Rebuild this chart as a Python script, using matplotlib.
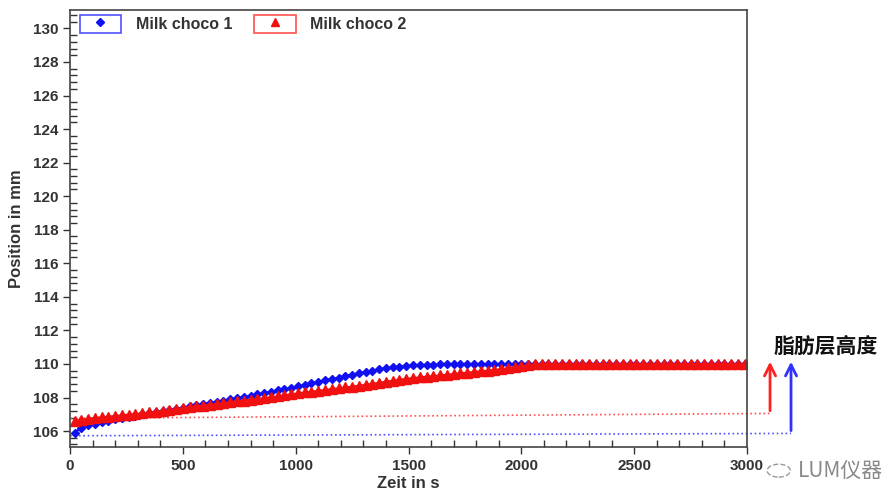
import numpy as np
import matplotlib.pyplot as plt
from matplotlib.lines import Line2D
from matplotlib.patches import Rectangle
from matplotlib.legend_handler import HandlerTuple
from matplotlib.ticker import MultipleLocator

plt.rcParams['font.family'] = ['Liberation Sans', 'Noto Sans CJK SC', 'DejaVu Sans']

# sampling times (s), one scan every 30 s
time_s = list(range(20, 3000, 30))

# Milk choco 1 - position of the fat layer front (mm)
choco1 = [105.90, 106.20, 106.35, 106.45, 106.55, 106.62, 106.70, 106.78, 106.85, 106.92,
          107.00, 107.06, 107.12, 107.19, 107.26, 107.33, 107.40, 107.47, 107.54, 107.61,
          107.68, 107.75, 107.82, 107.89, 107.96, 108.03, 108.10, 108.18, 108.26, 108.34,
          108.42, 108.50, 108.58, 108.66, 108.75, 108.84, 108.93, 109.02, 109.10, 109.18,
          109.27, 109.36, 109.45, 109.53, 109.61, 109.68, 109.74, 109.79, 109.84, 109.88,
          109.91, 109.93, 109.95, 109.96, 109.97, 109.98, 109.98, 109.98, 109.98, 109.98,
          109.98, 109.98, 109.98, 109.98, 109.98, 109.98, 109.98, 109.98, 109.98, 109.98,
          109.98, 109.98, 109.98, 109.98, 109.98, 109.98, 109.98, 109.98, 109.98, 109.98,
          109.98, 109.98, 109.98, 109.98, 109.98, 109.98, 109.98, 109.98, 109.98, 109.98,
          109.98, 109.98, 109.98, 109.98, 109.98, 109.98, 109.98, 109.98, 109.98, 109.98]

# Milk choco 2
choco2 = [106.60, 106.68, 106.74, 106.78, 106.82, 106.86, 106.90, 106.94, 106.98, 107.02,
          107.06, 107.11, 107.16, 107.21, 107.26, 107.31, 107.37, 107.42, 107.47, 107.52,
          107.57, 107.62, 107.67, 107.72, 107.77, 107.82, 107.87, 107.92, 107.97, 108.02,
          108.07, 108.13, 108.19, 108.25, 108.30, 108.35, 108.40, 108.45, 108.50, 108.55,
          108.60, 108.65, 108.70, 108.76, 108.82, 108.88, 108.94, 109.00, 109.06, 109.11,
          109.16, 109.20, 109.24, 109.28, 109.32, 109.36, 109.40, 109.44, 109.48, 109.52,
          109.56, 109.60, 109.64, 109.69, 109.75, 109.81, 109.87, 109.93, 109.97, 110.00,
          110.00, 110.00, 110.00, 110.00, 110.00, 110.00, 110.00, 110.00, 110.00, 110.00,
          110.00, 110.00, 110.00, 110.00, 110.00, 110.00, 110.00, 110.00, 110.00, 110.00,
          110.00, 110.00, 110.00, 110.00, 110.00, 110.00, 110.00, 110.00, 110.00, 110.00]

# dotted start lines + arrows (x in s, y in mm)
red_base_x = [0, 3102]
red_base_y = [106.76, 107.05]
blue_base_x = [0, 3195]
blue_base_y = [105.72, 105.86]
arrow_top = 110.3

blue = '#1010f0'
red = '#f01010'

fig = plt.figure(figsize=(8.91, 4.97), dpi=100)
ax = fig.add_axes([0.0786, 0.1006, 0.7598, 0.8793])

ax.plot(red_base_x, red_base_y, ls=':', lw=1.2, color='#ff5050', clip_on=False)
ax.plot(blue_base_x, blue_base_y, ls=':', lw=1.2, color='#5050ff', clip_on=False)
ax.annotate('', xy=(red_base_x[1], arrow_top), xytext=(red_base_x[1], red_base_y[1]),
            annotation_clip=False,
            arrowprops=dict(arrowstyle='->', color='#ff2020', lw=2, mutation_scale=20))
ax.annotate('', xy=(blue_base_x[1], arrow_top), xytext=(blue_base_x[1], blue_base_y[1]),
            annotation_clip=False,
            arrowprops=dict(arrowstyle='->', color='#3030ff', lw=2, mutation_scale=20))

ax.plot(time_s, choco1, color=blue, lw=1.5, marker='D', ms=4.5, mec=blue, mfc=blue)
ax.plot(time_s, choco2, color=red, lw=1.5, marker='^', ms=6.5, mec=red, mfc=red)

ax.set_xlim(0, 3000)
ax.set_ylim(105.05, 131.1)
ax.xaxis.set_major_locator(MultipleLocator(500))
ax.xaxis.set_minor_locator(MultipleLocator(100))
ax.yaxis.set_minor_locator(MultipleLocator(0.4))
ax.set_yticks(np.arange(106, 131, 2))
ax.tick_params(which='major', direction='out', length=5, width=1, color='#333333',
               labelsize=11, labelcolor='#333333')
ax.tick_params(which='minor', direction='in', length=5, width=1, color='#333333')
for lab in ax.get_xticklabels() + ax.get_yticklabels():
    lab.set_fontweight('bold')
for sp in ax.spines.values():
    sp.set_color('#444444')
    sp.set_linewidth(1.2)

ax.set_xlabel('Zeit in s', fontsize=12, fontweight='bold', color='#333333', labelpad=2)
ax.set_ylabel('Position in mm', fontsize=12, fontweight='bold', color='#333333', labelpad=6)

h1 = (Rectangle((0, 0), 1, 1, fill=False, ec='#5050ff', lw=1.2),
      Line2D([], [], ls='none', marker='D', ms=4.5, color=blue))
h2 = (Rectangle((0, 0), 1, 1, fill=False, ec='#ff5050', lw=1.2),
      Line2D([], [], ls='none', marker='^', ms=6, color=red))
leg = ax.legend([h1, h2], ['Milk choco 1', 'Milk choco 2'], ncol=2, frameon=False,
                loc='upper left', bbox_to_anchor=(0.0, 1.01), handler_map={tuple: HandlerTuple(ndivide=1)},
                handlelength=2.6, handleheight=1.3, columnspacing=1.4, handletextpad=0.9,
                borderaxespad=0.2, prop={'weight': 'bold', 'size': 11.5})
for t in leg.get_texts():
    t.set_color('#333333')

fig.text(0.868, 0.303, '脂肪层高度', fontsize=15, fontweight='bold', color='#111111',
         family=['Noto Sans CJK SC', 'DejaVu Sans'], ha='left', va='center')
fig.text(0.896, 0.053, 'LUM仪器', fontsize=15, color='#888888',
         family=['Noto Sans CJK SC', 'DejaVu Sans'], ha='left', va='center')
fig.patches.append(plt.Circle((0.874, 0.053), 0.013, transform=fig.transFigure,
                              fill=False, ec='#999999', lw=1, ls='--'))

fig.savefig('out.png', dpi=100)
